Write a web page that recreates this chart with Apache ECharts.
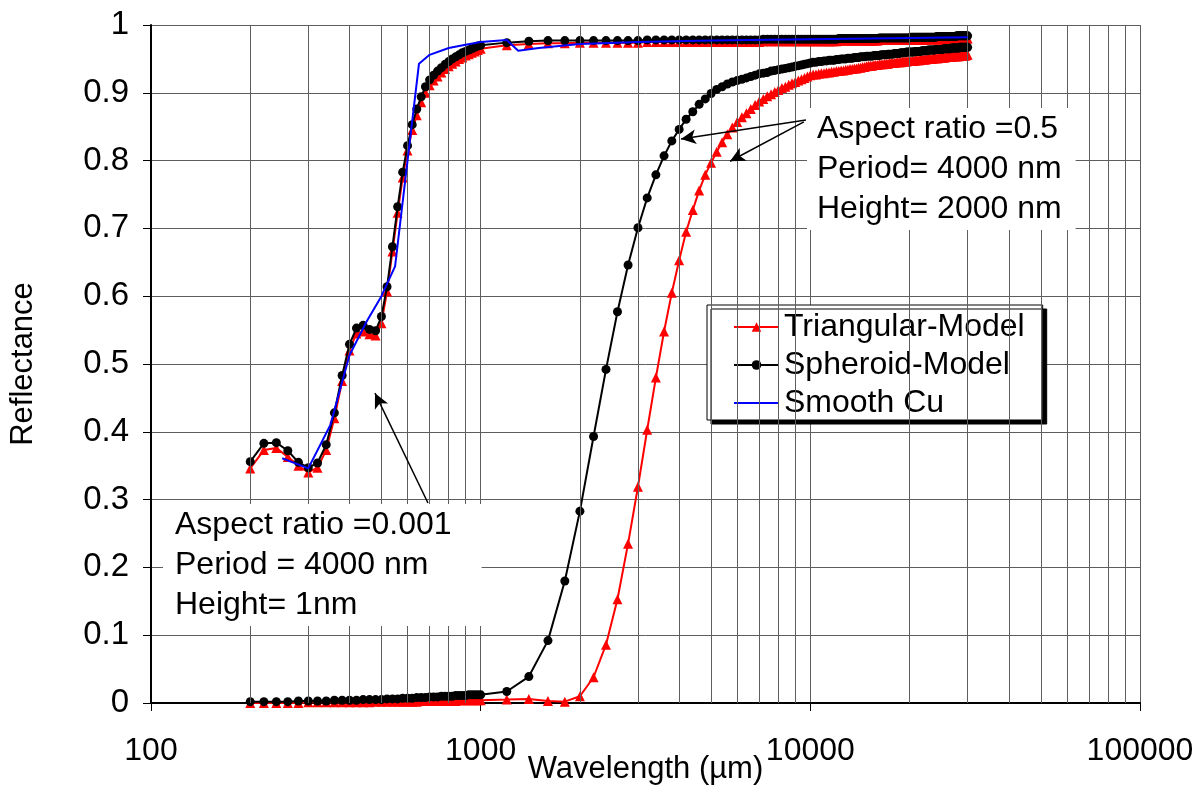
<!DOCTYPE html>
<html>
<head>
<meta charset="utf-8">
<script src="https://cdn.jsdelivr.net/npm/echarts@6/dist/echarts.min.js"></script>
<style>
html,body{margin:0;padding:0;background:#fff;}
#chart{width:1201px;height:785px;}
</style>
</head>
<body>
<div id="chart"></div>
<script>
// ---- data ----
const wlFine = [200,220,240,260,280,300,320,340,360,380,400,420,440,460,480,500,520,540,560,580,600,620,640,660,680,700,720,740,760,780,800,820,840,860,880,900,920,940,960,980,1000];
const wlCoarse = [
1200,1400,1600,1800,2000,2200,2400,2600,2800,3000,
3200,3400,3600,3800,4000,4200,4400,4600,4800,5000,
5200,5400,5600,5800,6000,6200,6400,6600,6800,7000,
7200,7400,7600,7800,8000,8200,8400,8600,8800,9000,
9200,9400,9600,9800,10000,10200,10400,10600,10800,11000,
11200,11400,11600,11800,12000,12200,12400,12600,12800,13000,
13200,13400,13600,13800,14000,14200,14400,14600,14800,15000,
15200,15400,15600,15800,16000,16200,16400,16600,16800,17000,
17200,17400,17600,17800,18000,18200,18400,18600,18800,19000,
19200,19400,19600,19800,20000,20200,20400,20600,20800,21000,
21200,21400,21600,21800,22000,22200,22400,22600,22800,23000,
23200,23400,23600,23800,24000,24200,24400,24600,24800,25000,
25200,25400,25600,25800,26000,26200,26400,26600,26800,27000,
27200,27400,27600,27800,28000,28200,28400,28600,28800,29000,
29200,29400,29600,29800,30000];

// Aspect ratio 0.001 (upper curves)
const spheroidFlatFine = [0.356,0.383,0.384,0.372,0.355,0.347,0.354,0.381,0.428,0.483,0.529,0.553,0.557,0.551,0.549,0.570,0.614,0.673,0.732,0.783,0.822,0.853,0.876,0.894,0.909,0.919,0.926,0.932,0.937,0.942,0.946,0.950,0.953,0.956,0.959,0.961,0.963,0.965,0.967,0.969,0.970];
const spheroidFlatCoarse = [
0.974,0.976,0.977,0.977,0.977,0.977,0.977,0.977,0.977,0.977,
0.978,0.978,0.978,0.978,0.978,0.978,0.978,0.978,0.978,0.978,
0.978,0.978,0.978,0.978,0.978,0.978,0.978,0.978,0.978,0.978,
0.979,0.979,0.979,0.979,0.979,0.979,0.979,0.979,0.979,0.979,
0.979,0.979,0.979,0.979,0.979,0.979,0.979,0.979,0.979,0.979,
0.979,0.979,0.979,0.979,0.979,0.980,0.980,0.980,0.980,0.980,
0.980,0.980,0.980,0.980,0.980,0.980,0.980,0.980,0.980,0.980,
0.980,0.980,0.980,0.980,0.980,0.981,0.981,0.981,0.981,0.981,
0.981,0.981,0.981,0.981,0.981,0.981,0.981,0.981,0.981,0.981,
0.981,0.981,0.981,0.981,0.981,0.982,0.982,0.982,0.982,0.982,
0.982,0.982,0.982,0.982,0.982,0.982,0.982,0.982,0.982,0.982,
0.982,0.982,0.982,0.982,0.982,0.983,0.983,0.983,0.983,0.983,
0.983,0.983,0.983,0.983,0.983,0.983,0.983,0.983,0.983,0.983,
0.983,0.983,0.983,0.984,0.984,0.984,0.984,0.984,0.984,0.984,
0.984,0.984,0.984,0.984,0.984];
const triangFlatFine = [0.346,0.373,0.376,0.363,0.350,0.340,0.347,0.373,0.420,0.475,0.520,0.545,0.548,0.544,0.542,0.560,0.607,0.666,0.723,0.775,0.815,0.845,0.867,0.886,0.900,0.911,0.918,0.924,0.930,0.935,0.939,0.943,0.946,0.950,0.952,0.955,0.957,0.959,0.961,0.963,0.965];
const triangFlatCoarse = [
0.970,0.972,0.973,0.973,0.974,0.974,0.974,0.974,0.974,0.974,
0.975,0.975,0.975,0.975,0.975,0.975,0.975,0.975,0.975,0.975,
0.975,0.975,0.975,0.975,0.975,0.975,0.975,0.975,0.975,0.975,
0.976,0.976,0.976,0.976,0.976,0.976,0.976,0.976,0.976,0.976,
0.976,0.976,0.976,0.976,0.976,0.976,0.976,0.976,0.976,0.976,
0.976,0.976,0.976,0.976,0.976,0.977,0.977,0.977,0.977,0.977,
0.977,0.977,0.977,0.977,0.977,0.977,0.977,0.977,0.977,0.977,
0.977,0.977,0.977,0.977,0.977,0.978,0.978,0.978,0.978,0.978,
0.978,0.978,0.978,0.978,0.978,0.978,0.978,0.978,0.978,0.978,
0.978,0.978,0.978,0.978,0.978,0.978,0.978,0.978,0.978,0.978,
0.978,0.978,0.978,0.978,0.978,0.979,0.979,0.979,0.979,0.979,
0.979,0.979,0.979,0.979,0.979,0.979,0.979,0.979,0.979,0.979,
0.979,0.979,0.979,0.979,0.979,0.979,0.979,0.979,0.979,0.979,
0.979,0.979,0.979,0.980,0.980,0.980,0.980,0.980,0.980,0.980,
0.980,0.980,0.980,0.980,0.980];

// Aspect ratio 0.5 (lower curves)
const spheroidDeepFine = [0.002,0.002,0.002,0.002,0.003,0.003,0.003,0.003,0.004,0.004,0.004,0.004,0.005,0.005,0.005,0.005,0.006,0.006,0.006,0.007,0.007,0.007,0.008,0.008,0.008,0.009,0.009,0.009,0.010,0.010,0.010,0.010,0.011,0.011,0.011,0.011,0.012,0.012,0.012,0.012,0.012];
const spheroidDeepCoarse = [
0.017,0.039,0.092,0.180,0.283,0.393,0.492,0.577,0.646,0.701,
0.745,0.779,0.807,0.829,0.846,0.861,0.872,0.883,0.891,0.899,
0.905,0.909,0.913,0.916,0.918,0.920,0.922,0.924,0.926,0.928,
0.929,0.930,0.932,0.933,0.934,0.935,0.936,0.937,0.938,0.939,
0.940,0.941,0.942,0.943,0.944,0.945,0.945,0.946,0.946,0.947,
0.947,0.948,0.948,0.948,0.949,0.949,0.950,0.950,0.950,0.951,
0.951,0.951,0.952,0.952,0.952,0.953,0.953,0.953,0.954,0.954,
0.954,0.954,0.955,0.955,0.955,0.955,0.956,0.956,0.956,0.956,
0.957,0.957,0.957,0.957,0.958,0.958,0.958,0.958,0.959,0.959,
0.959,0.959,0.960,0.960,0.960,0.960,0.960,0.960,0.961,0.961,
0.961,0.961,0.961,0.962,0.962,0.962,0.962,0.962,0.963,0.963,
0.963,0.963,0.963,0.963,0.964,0.964,0.964,0.964,0.964,0.964,
0.964,0.965,0.965,0.965,0.965,0.965,0.965,0.965,0.966,0.966,
0.966,0.966,0.966,0.966,0.966,0.966,0.967,0.967,0.967,0.967,
0.967,0.967,0.967,0.967,0.967];
const triangDeepFine = [0.000,0.000,0.000,0.000,0.000,0.001,0.001,0.001,0.001,0.001,0.001,0.001,0.001,0.001,0.002,0.002,0.002,0.002,0.002,0.002,0.002,0.002,0.002,0.003,0.003,0.003,0.003,0.003,0.003,0.003,0.003,0.003,0.003,0.004,0.004,0.004,0.004,0.004,0.004,0.004,0.004];
const triangDeepCoarse = [
0.005,0.006,0.003,0.002,0.010,0.038,0.086,0.153,0.235,0.319,
0.403,0.480,0.548,0.605,0.653,0.695,0.727,0.756,0.779,0.797,
0.813,0.827,0.839,0.849,0.857,0.864,0.870,0.876,0.882,0.887,
0.891,0.895,0.898,0.901,0.904,0.907,0.909,0.912,0.914,0.916,
0.918,0.920,0.922,0.924,0.926,0.927,0.927,0.928,0.929,0.929,
0.930,0.930,0.931,0.931,0.932,0.932,0.933,0.933,0.934,0.934,
0.935,0.935,0.936,0.936,0.937,0.937,0.938,0.938,0.939,0.940,
0.940,0.940,0.941,0.941,0.941,0.942,0.942,0.942,0.943,0.943,
0.943,0.944,0.944,0.944,0.944,0.945,0.945,0.945,0.945,0.946,
0.946,0.946,0.946,0.947,0.947,0.947,0.947,0.947,0.948,0.948,
0.948,0.948,0.949,0.949,0.949,0.949,0.949,0.950,0.950,0.950,
0.950,0.950,0.951,0.951,0.951,0.951,0.951,0.952,0.952,0.952,
0.952,0.952,0.952,0.953,0.953,0.953,0.953,0.953,0.953,0.954,
0.954,0.954,0.954,0.954,0.954,0.954,0.955,0.955,0.955,0.955,
0.955,0.955,0.955,0.956,0.956];

// Smooth Cu
const cuWl = [250,300,350,400,450,500,550,650,700,800,900,1000,1200,1300,1500,2000,3000,5000,10000,20000,30000];
const cuR  = [0.361,0.346,0.410,0.513,0.562,0.600,0.644,0.943,0.956,0.966,0.971,0.975,0.978,0.962,0.966,0.972,0.975,0.977,0.979,0.981,0.982];

const minorTicks = [200,300,400,500,600,700,800,900,2000,3000,4000,5000,6000,7000,8000,9000,20000,30000,40000,50000,60000,70000,80000,90000];

// ---- build ----
const wl = wlFine.concat(wlCoarse);
const pair = (xs, ys) => xs.map((x, i) => [x, ys[i]]);
const FONT = 'Liberation Sans, Arial, sans-serif';
const RED = '#ff0000', BLACK = '#000000', BLUE = '#0000ff';
const GRIDC = '#5e5e5e';

const chart = echarts.init(document.getElementById('chart'), null, {renderer: 'canvas'});

const triStyle = {type: 'line', symbol: 'triangle', symbolSize: 10, showSymbol: true,
  lineStyle: {color: RED, width: 2}, itemStyle: {color: RED}, color: RED, z: 3, animation: false};
const sphStyle = {type: 'line', symbol: 'circle', symbolSize: 9, showSymbol: true,
  lineStyle: {color: BLACK, width: 2}, itemStyle: {color: BLACK}, color: BLACK, z: 4, animation: false};

chart.setOption({
  animation: false,
  backgroundColor: '#ffffff',
  grid: {left: 151, right: 61, top: 25, bottom: 82, containLabel: false, outerBoundsMode: 'none'},
  legend: {
    data: ['Triangular-Model', 'Spheroid-Model',
      {name: 'Smooth Cu', icon: 'path://M0,0 L45,0 L45,2 L0,2 Z'}],
    orient: 'vertical', left: 707, top: 305,
    backgroundColor: '#ffffff', borderColor: '#000', borderWidth: 1,
    shadowColor: '#000', shadowBlur: 0, shadowOffsetX: 4, shadowOffsetY: 4,
    padding: [6, 18, 1, 26],
    itemWidth: 45, itemHeight: 12, itemGap: 6,
    textStyle: {fontFamily: FONT, fontSize: 32, color: '#000', lineHeight: 32},
    selectedMode: false
  },
  xAxis: [{
    type: 'log', logBase: 10, min: 100, max: 100000,
    axisLine: {show: true, onZero: false, lineStyle: {color: '#000', width: 2}},
    axisTick: {show: true, length: 8, lineStyle: {color: '#000', width: 1}},
    axisLabel: {fontFamily: FONT, fontSize: 32, color: '#000', margin: 32,
      formatter: v => String(Math.round(v))},
    splitLine: {show: true, lineStyle: {color: GRIDC, width: 1}},
    name: 'Wavelength (µm)', nameLocation: 'middle', nameGap: 51, nameMoveOverlap: false,
    nameTextStyle: {fontFamily: FONT, fontSize: 31, color: '#000'}
  }, {
    type: 'log', logBase: 10, min: 100, max: 100000, position: 'top',
    axisLine: {show: true, lineStyle: {color: '#000', width: 2}},
    axisTick: {show: false}, axisLabel: {show: false}, splitLine: {show: false}
  }],
  yAxis: {
    type: 'value', min: 0, max: 1, interval: 0.1,
    axisLine: {show: true, lineStyle: {color: '#000', width: 2}},
    axisTick: {show: true, length: 8, lineStyle: {color: '#000', width: 1}},
    axisLabel: {fontFamily: FONT, fontSize: 33, color: '#000', margin: 22},
    splitLine: {show: true, lineStyle: {color: GRIDC, width: 1}},
    name: 'Reflectance', nameLocation: 'middle', nameGap: 112, nameRotate: 90, nameMoveOverlap: false,
    nameTextStyle: {fontFamily: FONT, fontSize: 31, color: '#000'}
  },
  graphic: [
    {type: 'text', left: 163, top: 504, z: 100,
     style: {text: 'Aspect ratio =0.001\nPeriod = 4000 nm\nHeight= 1nm', font: '32px ' + FONT,
       fill: '#000', backgroundColor: '#fff', padding: [1, 30, 1, 12], lineHeight: 40}},
    {type: 'text', left: 807, top: 108, z: 100,
     style: {text: 'Aspect ratio =0.5\nPeriod= 4000 nm\nHeight= 2000 nm', font: '32px ' + FONT,
       fill: '#000', backgroundColor: '#fff', padding: [1, 14, 1, 10], lineHeight: 40}}
  ],
  series: [
    {name: 'grid-minor', type: 'line', data: [], silent: true, z: 1,
     markLine: {silent: true, symbol: ['none', 'none'], label: {show: false}, animation: false,
       lineStyle: {color: GRIDC, width: 1, type: 'solid'},
       data: minorTicks.map(v => ({xAxis: v}))}},
    Object.assign({name: 'Triangular-Model', data: pair(wl, triangDeepFine.concat(triangDeepCoarse))}, triStyle),
    Object.assign({name: 'Triangular-Model', data: pair(wl, triangFlatFine.concat(triangFlatCoarse))}, triStyle),
    Object.assign({name: 'Spheroid-Model', data: pair(wl, spheroidDeepFine.concat(spheroidDeepCoarse))}, sphStyle),
    Object.assign({name: 'Spheroid-Model', data: pair(wl, spheroidFlatFine.concat(spheroidFlatCoarse))}, sphStyle),
    {name: 'Smooth Cu', type: 'line', data: pair(cuWl, cuR), symbol: 'none', showSymbol: false,
     lineStyle: {color: BLUE, width: 2}, itemStyle: {color: BLUE}, color: BLUE, z: 5},
    {name: 'arrows', type: 'line', data: [], silent: true, z: 6,
     markLine: {silent: true, symbol: ['none', 'arrow'], symbolSize: [11, 15], label: {show: false},
       animation: false, lineStyle: {color: '#000', width: 1.5, type: 'solid'},
       data: [
         [{coord: [692, 0.295]}, {coord: [478, 0.457]}],
         [{coord: [9700, 0.860]}, {coord: [4051, 0.832]}],
         [{coord: [9560, 0.857]}, {coord: [5705, 0.799]}]
       ]}}
  ]
});
</script>
</body>
</html>
